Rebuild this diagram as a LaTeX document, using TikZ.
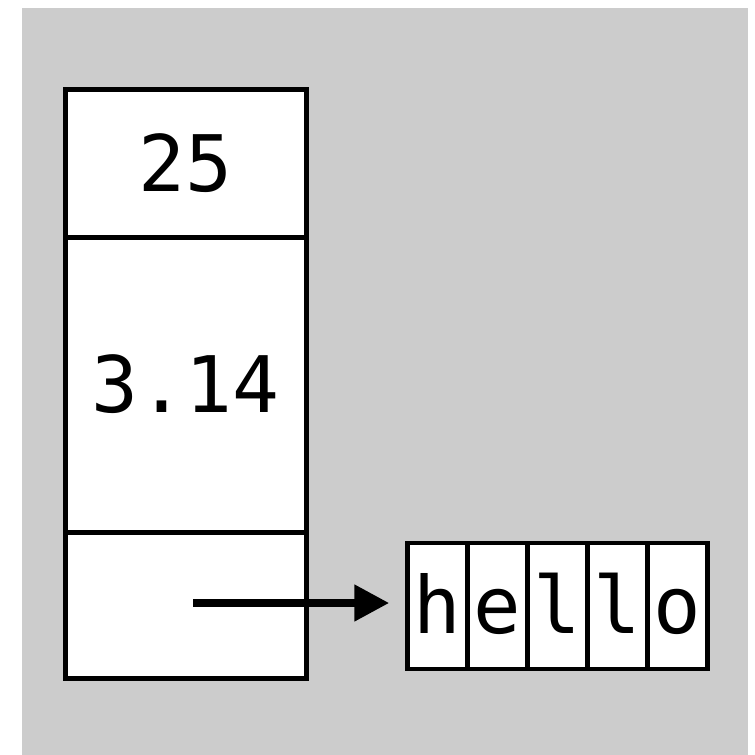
\documentclass[tikz,border=0pt]{standalone}
\usepackage{fontspec}
\setmonofont{DejaVu Sans Mono}
\usetikzlibrary{arrows.meta}
\definecolor{bggray}{HTML}{CCCCCC}
\begin{document}
\begin{tikzpicture}[x=1pt,y=-1pt,
  cellbox/.style={draw, line width=5pt, fill=white, inner sep=0pt, minimum width=241pt,
    font=\fontsize{78}{88}\selectfont\ttfamily},
  charbox/.style={draw, line width=4.5pt, fill=white, inner sep=0pt, minimum width=60pt, minimum height=126pt,
    text height=60pt, text depth=6pt, font=\fontsize{79}{88}\selectfont\ttfamily},
  ptr/.style={line width=8pt, -{Triangle[length=35pt,width=35pt]}}]
\useasboundingbox (0,0) rectangle (755,755);
\fill[bggray] (22,8) rectangle (748,755);
\node[cellbox, minimum height=148pt] (top) at (185.5,163) {25};
\node[cellbox, minimum height=295pt] (mid) at (185.5,384.5) {3.14};
\node[cellbox, minimum height=146pt] (bot) at (185.5,605) {};
\node[charbox] (c1) at (437.5,606) {h};
\node[charbox] (c2) at (497.5,606) {e};
\node[charbox] (c3) at (557.5,606) {l};
\node[charbox] (c4) at (617.5,606) {l};
\node[charbox] (c5) at (677.5,606) {o};
\coordinate (src) at (193,603);
\draw[ptr, shorten >=16pt] (src) -- (src -| c1.west);
\end{tikzpicture}
\end{document}
